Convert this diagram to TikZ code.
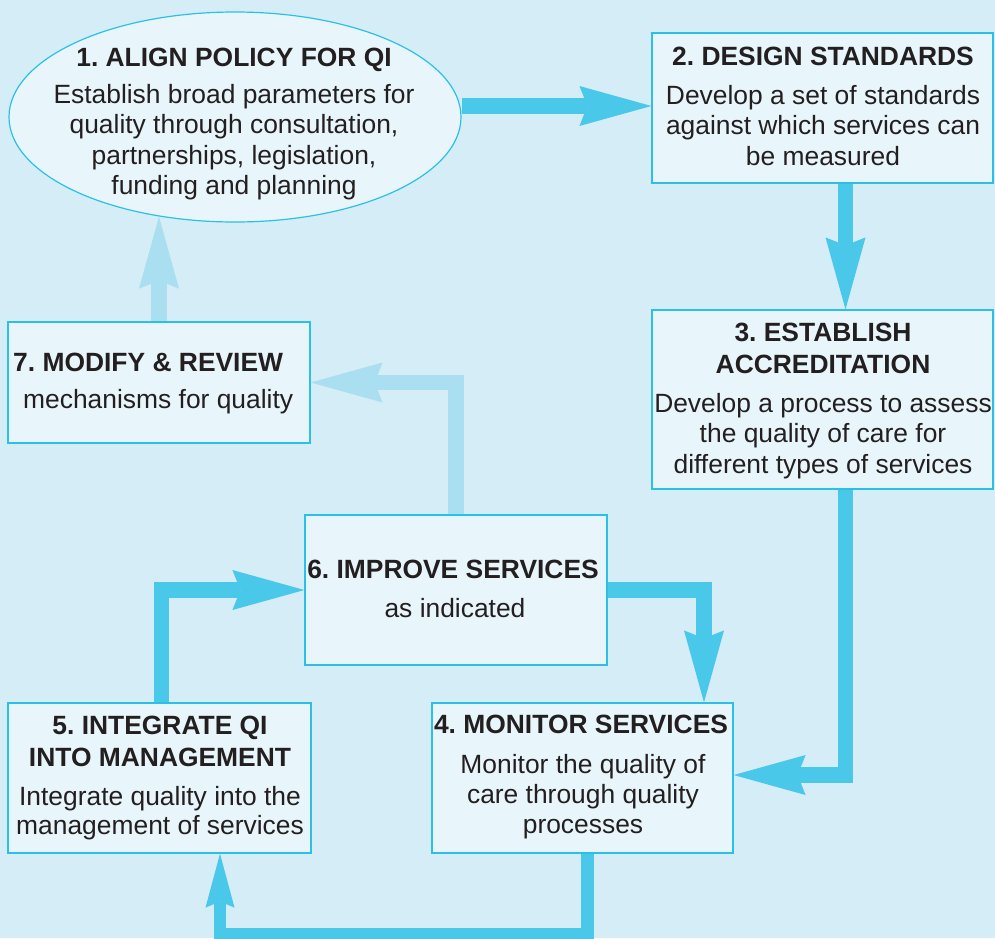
\documentclass[tikz,border=0pt]{standalone}
\usepackage{fontspec}
\setmainfont{Liberation Sans}
\frenchspacing
\usetikzlibrary{arrows.meta,shapes.geometric,calc}
\definecolor{bgc}{HTML}{D5EDF7}
\definecolor{boxc}{HTML}{E8F6FB}
\definecolor{edgec}{HTML}{2AC0E8}
\definecolor{arrc}{HTML}{4AC8EA}
\definecolor{lightc}{HTML}{A9DFF1}
\definecolor{txtc}{HTML}{231F20}
\tikzset{
  box/.style={draw=edgec, fill=boxc, line width=1.2pt, inner sep=0pt, rectangle},
  oval/.style={draw=edgec, fill=boxc, line width=1.2pt, inner sep=0pt, ellipse},
  ttl/.style={anchor=base, inner sep=0pt, text=txtc, font=\fontsize{26.4}{30}\selectfont\bfseries},
  bdy/.style={anchor=base, inner sep=0pt, text=txtc, font=\fontsize{26.4}{30}\selectfont},
  flow/.style={draw=arrc, line width=15.5pt, -{Stealth[length=72pt, width=40pt, inset=8pt, line width=0pt 0 0]}},
  flowthin/.style={draw=arrc, line width=12.5pt, -{Stealth[length=54pt, width=29pt, inset=6pt, line width=0pt 0 0]}},
  flowlight/.style={draw=lightc, line width=15.5pt, -{Stealth[length=72pt, width=40pt, inset=8pt, line width=0pt 0 0]}},
}
\begin{document}
\begin{tikzpicture}[x=1pt, y=-1pt]
\useasboundingbox (0,0) rectangle (995,938);
\fill[bgc] (0,0) rectangle (995,938);

% shapes
\node[oval, minimum width=452pt, minimum height=210pt] (e1) at (235,117) {};
\node[box, minimum width=341pt, minimum height=150pt] (b2) at (822.5,108) {};
\node[box, minimum width=341pt, minimum height=179pt] (b3) at (822.5,399.5) {};
\node[box, minimum width=301pt, minimum height=150pt] (b4) at (582.5,778) {};
\node[box, minimum width=303pt, minimum height=150pt] (b5) at (159.5,778) {};
\node[box, minimum width=302pt, minimum height=150pt] (b6) at (456,590) {};
\node[box, minimum width=302pt, minimum height=121pt] (b7) at (159,382.5) {};

% texts
\node[ttl] (t1) at (234,66) {1. ALIGN POLICY FOR QI};
\node[bdy] (t1a) at (234,103) {Establish broad parameters for};
\node[bdy] (t1b) at (234,133) {quality through consultation,};
\node[bdy] (t1c) at (234,164) {partnerships, legislation,};
\node[bdy] (t1d) at (234,194) {funding and planning};

\node[ttl] (t2) at (823,65) {2. DESIGN STANDARDS};
\node[bdy] (t2a) at (823,104) {Develop a set of standards};
\node[bdy] (t2b) at (823,134) {against which services can};
\node[bdy] (t2c) at (823,165) {be measured};

\node[ttl] (t3) at (823,341) {3. ESTABLISH};
\node[ttl] (t3x) at (823,373) {ACCREDITATION};
\node[bdy] (t3a) at (823,412) {Develop a process to assess};
\node[bdy] (t3b) at (823,442) {the quality of care for};
\node[bdy] (t3c) at (823,473) {different types of services};

\node[ttl] (t4) at (581,733) {4. MONITOR SERVICES};
\node[bdy] (t4a) at (583,773) {Monitor the quality of};
\node[bdy] (t4b) at (583,803) {care through quality};
\node[bdy] (t4c) at (583,833) {processes};

\node[ttl] (t5) at (160,734) {5. INTEGRATE QI};
\node[ttl] (t5x) at (160,766) {INTO MANAGEMENT};
\node[bdy] (t5a) at (160,805) {Integrate quality into the};
\node[bdy] (t5b) at (160,834) {management of services};

\node[ttl] (t6) at (453,578) {6. IMPROVE SERVICES};
\node[bdy] (t6a) at (455,617) {as indicated};

\node[ttl, anchor=base west] (t7) at (13,371) {7. MODIFY \& REVIEW};
\node[bdy, anchor=base west] (t7a) at (23,408) {mechanisms for quality};

% connectors
\coordinate (e1b) at (e1.-127.5);
\draw[flow] ([yshift=11pt]e1.east) -- ([yshift=11pt]e1.east -| b2.west);
\draw[flow] ([xshift=23pt]b2.south) -- ([xshift=23pt]b3.north);
\draw[flow] ([xshift=23pt]b3.south) |- ([yshift=3pt]b4.east);
\draw[flowthin] ([xshift=5pt]b4.south) -- ++(0,81) -| ([xshift=60.5pt]b5.south);
\draw[flow] ([xshift=2pt]b5.north) |- (b6.west);
\draw[flow] (b6.east) -| ([xshift=121.5pt]b4.north);
\draw[flowlight] (b6.north) |- (b7.east);
\draw[flowlight] (b7.north) -- (b7.north |- e1b);
\end{tikzpicture}
\end{document}
